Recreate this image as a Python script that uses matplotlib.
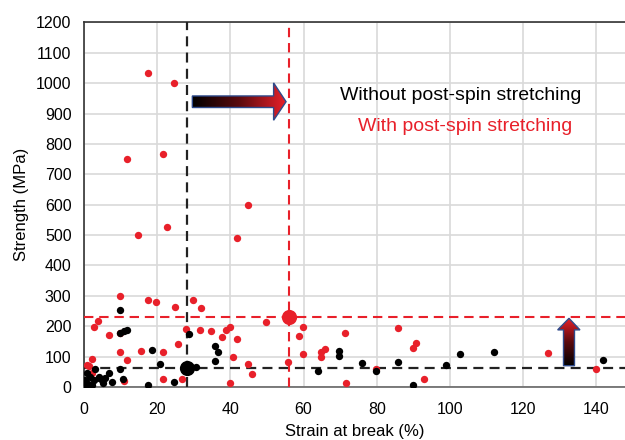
"""Strength vs strain at break, with/without post-spin stretching."""
import numpy as np
import matplotlib
matplotlib.use('Agg')
import matplotlib.pyplot as plt
from matplotlib.colors import LinearSegmentedColormap
from matplotlib.patches import Polygon

plt.rcParams.update({
    'font.family': ['Liberation Sans', 'DejaVu Sans'],
    'font.size': 11,
})

RED = '#E8202A'
BLACK = '#000000'

# data (strain %, strength MPa)
red_x = [17.6, 24.7, 11.7, 21.6, 44.8, 22.7, 14.7, 41.9, 9.8, 17.6, 19.7, 29.7,
         24.8, 32.0, 3.7, 2.7, 49.8, 59.8, 27.8, 31.7, 34.8, 38.7, 39.9, 37.7,
         41.8, 6.8, 9.8, 58.8, 25.8, 9.8, 15.7, 21.7, 59.8, 11.8, 40.8, 44.8,
         55.8, 2.3, 1.5, 2.1, 0.8, 10.8, 21.7, 26.8, 39.8, 45.8, 71.4, 64.7,
         65.8, 64.8, 71.5, 79.8, 85.7, 89.9, 90.8, 92.8, 126.9, 139.9]
red_y = [1033, 1001, 750, 767, 599, 525, 500, 490, 299, 285, 281, 285,
         264, 261, 218, 199, 214, 199, 191, 189, 183, 188, 199, 166,
         158, 172, 177, 169, 142, 114, 119, 114, 110, 88, 99, 76,
         83, 91, 69, 45, 72, 21, 26, 26, 13, 44, 178, 114,
         126, 98, 13, 60, 194, 128, 145, 26, 111, 58]

black_x = [9.8, 9.8, 11.0, 11.8, 28.7, 35.7, 36.7, 35.7, 18.7, 20.7, 9.8, 30.7,
           24.7, 17.6, 10.7, 0.8, 3.1, 1.7, 0.3, 2.6, 4.0, 4.9, 5.8, 6.7,
           7.6, 2.1, 5.3, 0.3, 4.0, 1.0, 63.8, 69.8, 69.8, 75.9, 79.8, 85.7,
           89.9, 98.9, 102.8, 111.9, 141.9]
black_y = [253, 177, 185, 188, 175, 136, 114, 85, 122, 77, 59, 66,
           16, 7, 26, 45, 59, 34, 23, 23, 34, 23, 29, 45,
           18, 7, 12, 7, 29, 10, 53, 119, 102, 78, 53, 81,
           7, 71, 108, 115, 90]

# averages
black_mean = (28.2, 62)
red_mean = (56.0, 230)

# arrow outlines (data units)
h_arrow_x = [29.6, 51.8, 51.8, 55.2, 51.8, 51.8, 29.6]
h_arrow_y = [958, 958, 1001, 939, 878, 920, 920]
v_arrow_x = [131.0, 134.0, 134.0, 135.5, 132.5, 129.4, 131.0]
v_arrow_y = [70, 70, 188, 188, 226, 188, 188]

XMAX = 147.8


def gradient_arrow(ax, xs, ys, horizontal=True):
    cmap = LinearSegmentedColormap.from_list('kr', ['#000000', '#5a0a0e', RED])
    grad = np.linspace(0, 1, 256)
    if horizontal:
        img = grad[np.newaxis, :]
    else:
        img = grad[::-1][:, np.newaxis]
    poly = Polygon(np.column_stack([xs, ys]), closed=True, facecolor='none',
                   edgecolor='#2E4A8B', linewidth=1.0, zorder=6)
    ax.add_patch(poly)
    im = ax.imshow(img, cmap=cmap, aspect='auto', zorder=5,
                   extent=[min(xs), max(xs), min(ys), max(ys)])
    im.set_clip_path(poly)


fig = plt.figure(figsize=(6.25, 4.4), dpi=100)
ax = fig.add_axes([0.1344, 0.1205, 1 - 0.1344, 0.949 - 0.1205])

ax.scatter(red_x, red_y, s=28, color=RED, zorder=4, linewidths=0)
ax.scatter(black_x, black_y, s=28, color=BLACK, zorder=4, linewidths=0)

ax.axvline(black_mean[0], color='#222222', lw=1.6, dashes=(4.5, 2.8), zorder=3)
ax.axhline(black_mean[1], color='#222222', lw=1.6, dashes=(4.5, 2.8), zorder=3)
ax.axvline(red_mean[0], color=RED, lw=1.5, dashes=(4.5, 2.8), zorder=3)
ax.axhline(red_mean[1], color=RED, lw=1.5, dashes=(4.5, 2.8), zorder=3)

ax.scatter([black_mean[0]], [black_mean[1]], s=120, color=BLACK, zorder=5, linewidths=0)
ax.scatter([red_mean[0]], [red_mean[1]], s=120, color=RED, zorder=5, linewidths=0)

gradient_arrow(ax, h_arrow_x, h_arrow_y, horizontal=True)
gradient_arrow(ax, v_arrow_x, v_arrow_y, horizontal=False)

ax.text(102.9, 961, 'Without post-spin stretching', color=BLACK, fontsize=14,
        ha='center', va='center')
ax.text(104.0, 856, 'With post-spin stretching', color=RED, fontsize=14,
        ha='center', va='center')

ax.set_xlim(0, XMAX)
ax.set_ylim(0, 1200)
ax.set_xticks(np.arange(0, 141, 20))
ax.set_yticks(np.arange(0, 1201, 100))
ax.tick_params(axis='y', length=0, pad=9, labelsize=11.5)
ax.tick_params(axis='x', length=0, pad=11, labelsize=11.5)
ax.grid(True, color='#D9D9D9', linewidth=1.2, zorder=0)
ax.set_axisbelow(True)

ax.spines['right'].set_visible(False)
ax.spines['top'].set_color('#333333')
ax.spines['left'].set_color('#333333')
ax.spines['bottom'].set_color('#666666')
for s in ['top', 'left', 'bottom']:
    ax.spines[s].set_linewidth(1.2)

ax.set_xlabel('Strain at break (%)', fontsize=12, labelpad=5)
ax.set_ylabel('Strength (MPa)', fontsize=12, labelpad=5)

fig.savefig('out.png', dpi=100)
